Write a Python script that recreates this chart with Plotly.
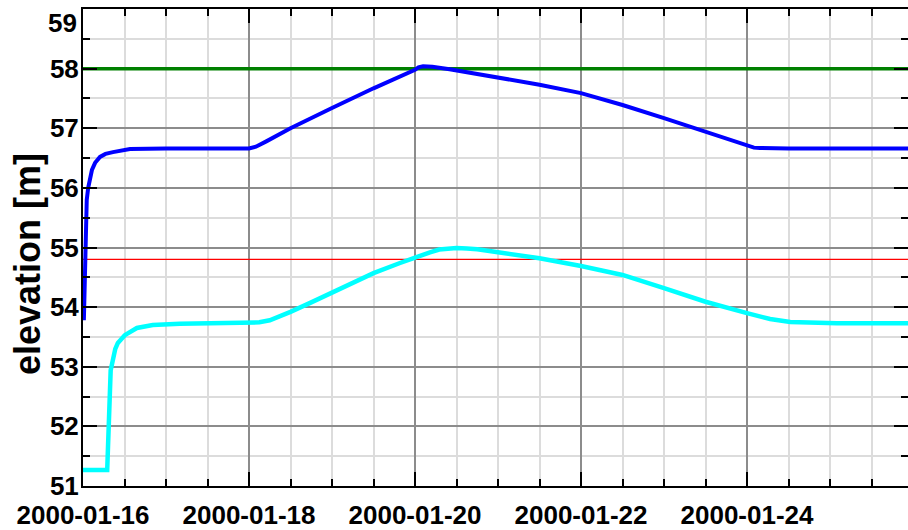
import plotly.graph_objects as go

# Water level time series (elevation in metres)
upper_time = [
    "2000-01-16 00:15", "2000-01-16 00:35", "2000-01-16 01:05", "2000-01-16 01:30",
    "2000-01-16 02:35", "2000-01-16 03:30", "2000-01-16 04:55", "2000-01-16 06:30",
    "2000-01-16 08:40", "2000-01-16 13:35", "2000-01-17 00:00", "2000-01-18 00:00",
    "2000-01-18 02:00", "2000-01-18 05:00", "2000-01-18 12:00", "2000-01-19 00:00",
    "2000-01-19 12:00", "2000-01-20 00:00", "2000-01-20 01:00", "2000-01-20 02:20",
    "2000-01-20 05:00", "2000-01-20 10:00", "2000-01-20 16:00", "2000-01-21 00:00",
    "2000-01-21 12:00", "2000-01-22 00:00", "2000-01-22 12:00", "2000-01-23 00:00",
    "2000-01-23 12:00", "2000-01-23 22:00", "2000-01-24 00:00", "2000-01-24 02:00",
    "2000-01-24 03:45", "2000-01-24 12:00", "2000-01-25 23:00",
]
upper_level = [
    53.78, 55.00, 55.80, 56.00,
    56.30, 56.42, 56.52, 56.57,
    56.60, 56.65, 56.66, 56.66,
    56.69, 56.78, 57.00, 57.34,
    57.67, 57.98, 58.02, 58.04,
    58.03, 57.99, 57.93, 57.86,
    57.73, 57.59, 57.39, 57.17,
    56.94, 56.74, 56.70, 56.675,
    56.67, 56.66, 56.66,
]

lower_time = [
    "2000-01-16 00:00", "2000-01-16 07:00", "2000-01-16 08:00", "2000-01-16 08:45",
    "2000-01-16 09:20", "2000-01-16 10:05", "2000-01-16 12:05", "2000-01-16 15:35",
    "2000-01-16 20:10", "2000-01-17 04:00", "2000-01-17 12:00", "2000-01-18 00:00",
    "2000-01-18 03:00", "2000-01-18 06:00", "2000-01-18 09:00", "2000-01-18 12:00",
    "2000-01-18 18:00", "2000-01-19 00:00", "2000-01-19 12:00", "2000-01-19 19:40",
    "2000-01-20 00:00", "2000-01-20 04:20", "2000-01-20 07:00", "2000-01-20 10:00",
    "2000-01-20 12:00", "2000-01-20 15:00", "2000-01-20 18:00", "2000-01-21 00:00",
    "2000-01-21 12:00", "2000-01-22 00:00", "2000-01-22 12:00", "2000-01-23 00:00",
    "2000-01-23 12:00", "2000-01-24 00:00", "2000-01-24 03:00", "2000-01-24 06:40",
    "2000-01-24 12:30", "2000-01-25 02:00", "2000-01-25 23:00",
]
lower_level = [
    51.27, 51.27, 52.94, 53.16,
    53.30, 53.40, 53.53, 53.65,
    53.70, 53.72, 53.73, 53.73,
    53.745, 53.78, 53.84, 53.92,
    54.08, 54.24, 54.57, 54.74,
    54.84, 54.92, 54.965, 54.99,
    54.99, 54.985, 54.97, 54.92,
    54.82, 54.69, 54.54, 54.32,
    54.09, 53.90, 53.85, 53.80,
    53.75, 53.73, 53.73,
]

# Reference levels
ref_span = ["2000-01-15 12:00", "2000-01-26 12:00"]
crest_level = 58.0
threshold_level = 54.8

x_start = "2000-01-16 00:00"
x_end = "2000-01-25 22:33"
y_ticks = [51, 52, 53, 54, 55, 56, 57, 58, 59]
y_top = 59

FONT = "Liberation Sans, Arial, sans-serif"
TICK_X = dict(family=FONT, size=26, color="black", weight="bold")
TICK_Y = dict(family=FONT, size=26, color="black", weight="bold")

fig = go.Figure()
fig.add_trace(go.Scatter(x=ref_span, y=[crest_level] * 2, mode="lines",
                         line=dict(color="#008000", width=3.5), hoverinfo="skip"))
fig.add_trace(go.Scatter(x=ref_span, y=[threshold_level] * 2, mode="lines",
                         line=dict(color="#ff0000", width=1.3), hoverinfo="skip"))
fig.add_trace(go.Scatter(x=lower_time, y=lower_level, mode="lines",
                         line=dict(color="#00ffff", width=4.5)))
fig.add_trace(go.Scatter(x=upper_time, y=upper_level, mode="lines",
                         line=dict(color="#0000ff", width=4)))

axis_common = dict(
    showline=True, linecolor="black", linewidth=2, mirror="allticks",
    ticks="inside", tickcolor="black", tickwidth=1.5,
    showgrid=True, gridcolor="#8c8c8c", gridwidth=1.5,
    zeroline=False, automargin=False,
)

fig.update_xaxes(
    **axis_common,
    type="date", range=[x_start, x_end],
    tick0="2000-01-16", dtick=2 * 86400000, tickformat="%Y-%m-%d",
    ticklen=14, tickangle=0, ticklabelstandoff=5,
    tickfont=TICK_X,
    minor=dict(dtick=12 * 3600000, ticklen=7, tickcolor="black", tickwidth=1.5,
               showgrid=True, gridcolor="#dcdcdc", gridwidth=1.5, ticks="inside"),
)
# the top label is placed separately so it stays inside the page
fig.update_yaxes(
    **axis_common,
    range=[51, 59], tickvals=y_ticks,
    ticktext=[str(v) if v != y_top else "" for v in y_ticks],
    ticklen=14, ticklabelstandoff=-3,
    tickfont=TICK_Y,
    minor=dict(dtick=0.5, ticklen=7, tickcolor="black", tickwidth=1.5,
               showgrid=True, gridcolor="#dcdcdc", gridwidth=1.5, ticks="inside"),
)
fig.add_annotation(
    text=str(y_top), showarrow=False, xref="paper", yref="y",
    x=0, y=y_top, xanchor="right", yanchor="top", xshift=-4, yshift=3,
    font=TICK_Y,
)

fig.add_annotation(
    text="elevation [m]", textangle=-90, showarrow=False,
    xref="paper", yref="paper", x=-0.068, y=0.465, xanchor="center", yanchor="middle",
    font=dict(family=FONT, size=36, color="black", weight="bold"),
)

fig.update_layout(
    width=908, height=530,
    margin=dict(l=83, r=0, t=9, b=44),
    paper_bgcolor="white", plot_bgcolor="white",
    showlegend=False,
)

fig.write_html("out.html")
